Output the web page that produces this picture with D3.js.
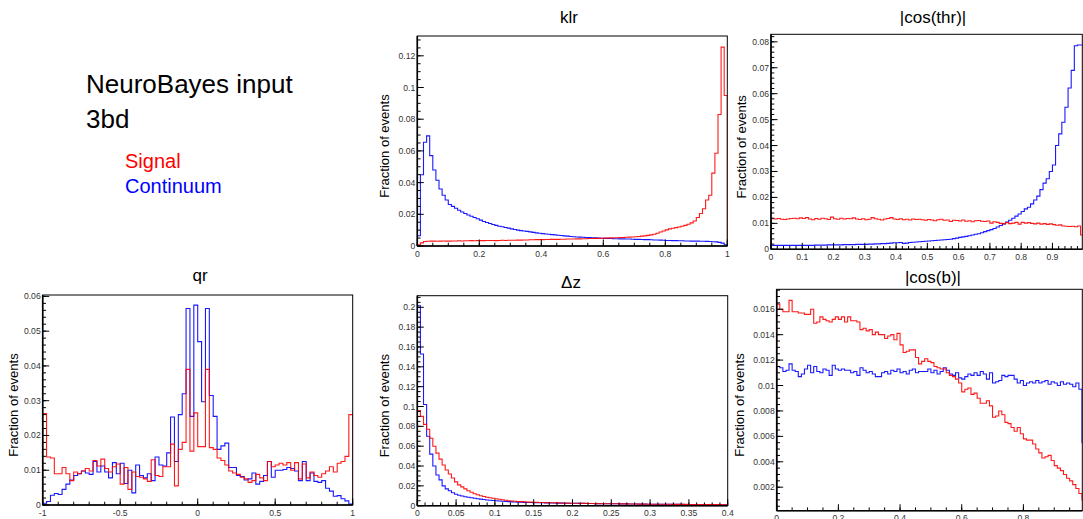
<!DOCTYPE html>
<html>
<head>
<meta charset="utf-8">
<script src="https://cdn.jsdelivr.net/npm/d3@7"></script>
<style>
  body { margin: 0; background: #fff; }
  svg { display: block; }
  text { font-family: "Liberation Sans", Arial, Helvetica, sans-serif; }
</style>
</head>
<body>
<svg id="canvas" width="1083" height="519"></svg>
<script>
// ---- data: fraction of events per bin ----

// klr, 100 bins in [0,1]
const klrSignal = [
  0.0008,0.0020,0.0028,0.0030,0.0031,0.0031,0.0030,0.0031,0.0032,0.0031,
  0.0031,0.0032,0.0032,0.0033,0.0032,0.0033,0.0033,0.0034,0.0033,0.0034,
  0.0034,0.0034,0.0035,0.0035,0.0035,0.0034,0.0035,0.0036,0.0035,0.0036,
  0.0036,0.0036,0.0037,0.0037,0.0038,0.0038,0.0039,0.0039,0.0040,0.0040,
  0.0040,0.0041,0.0041,0.0042,0.0042,0.0042,0.0043,0.0043,0.0044,0.0044,
  0.0044,0.0045,0.0045,0.0046,0.0046,0.0047,0.0047,0.0048,0.0048,0.0049,
  0.0050,0.0050,0.0051,0.0052,0.0052,0.0053,0.0054,0.0055,0.0056,0.0057,
  0.0058,0.0060,0.0062,0.0064,0.0067,0.0070,0.0074,0.0080,0.0088,0.0095,
  0.0102,0.0108,0.0112,0.0116,0.0120,0.0125,0.0130,0.0137,0.0146,0.0158,
  0.0180,0.0205,0.0235,0.0290,0.0320,0.0460,0.0585,0.0830,0.1255,0.0950
];
const klrContinuum = [
  0.0065,0.0450,0.0655,0.0695,0.0570,0.0480,0.0415,0.0360,0.0320,0.0290,
  0.0262,0.0250,0.0238,0.0226,0.0215,0.0205,0.0196,0.0188,0.0180,0.0172,
  0.0163,0.0155,0.0148,0.0142,0.0136,0.0130,0.0125,0.0121,0.0117,0.0113,
  0.0108,0.0104,0.0100,0.0097,0.0095,0.0092,0.0089,0.0086,0.0083,0.0080,
  0.0078,0.0076,0.0074,0.0072,0.0070,0.0068,0.0066,0.0064,0.0062,0.0060,
  0.0058,0.0057,0.0056,0.0055,0.0054,0.0053,0.0052,0.0051,0.0050,0.0049,
  0.0048,0.0048,0.0047,0.0046,0.0046,0.0045,0.0045,0.0044,0.0044,0.0043,
  0.0042,0.0042,0.0041,0.0040,0.0040,0.0039,0.0038,0.0038,0.0037,0.0036,
  0.0035,0.0035,0.0034,0.0034,0.0033,0.0033,0.0032,0.0032,0.0031,0.0031,
  0.0031,0.0030,0.0030,0.0029,0.0028,0.0027,0.0026,0.0023,0.0018,0.0008
];

// |cos(thr)|, 100 bins in [0,1]
const cosThrSignal = [
  0.0118,0.0117,0.0119,0.0116,0.0115,0.0117,0.0119,0.0120,0.0118,0.0121,
  0.0119,0.0122,0.0117,0.0114,0.0119,0.0116,0.0120,0.0118,0.0115,0.0124,
  0.0118,0.0116,0.0120,0.0117,0.0119,0.0118,0.0121,0.0117,0.0115,0.0118,
  0.0114,0.0116,0.0122,0.0118,0.0116,0.0113,0.0117,0.0119,0.0122,0.0117,
  0.0115,0.0118,0.0114,0.0116,0.0113,0.0117,0.0115,0.0116,0.0114,0.0112,
  0.0115,0.0113,0.0110,0.0114,0.0116,0.0112,0.0113,0.0107,0.0112,0.0111,
  0.0109,0.0113,0.0108,0.0110,0.0106,0.0110,0.0111,0.0108,0.0107,0.0109,
  0.0101,0.0106,0.0104,0.0100,0.0098,0.0103,0.0099,0.0101,0.0104,0.0097,
  0.0104,0.0101,0.0103,0.0100,0.0098,0.0101,0.0097,0.0099,0.0096,0.0098,
  0.0095,0.0093,0.0094,0.0090,0.0089,0.0088,0.0089,0.0087,0.0090,0.0055
];
const cosThrContinuum = [
  0.0015,0.0015,0.0015,0.0015,0.0015,0.0015,0.0015,0.0015,0.0015,0.0015,
  0.0015,0.0015,0.0015,0.0015,0.0016,0.0016,0.0016,0.0016,0.0017,0.0017,
  0.0017,0.0017,0.0017,0.0018,0.0018,0.0018,0.0018,0.0019,0.0019,0.0019,
  0.0019,0.0020,0.0020,0.0021,0.0021,0.0022,0.0022,0.0023,0.0024,0.0025,
  0.0025,0.0026,0.0023,0.0024,0.0026,0.0027,0.0028,0.0029,0.0030,0.0031,
  0.0032,0.0033,0.0034,0.0035,0.0036,0.0037,0.0038,0.0039,0.0041,0.0043,
  0.0046,0.0048,0.0050,0.0052,0.0055,0.0058,0.0060,0.0064,0.0068,0.0072,
  0.0076,0.0080,0.0086,0.0092,0.0098,0.0105,0.0112,0.0120,0.0128,0.0136,
  0.0146,0.0156,0.0162,0.0175,0.0190,0.0205,0.0230,0.0255,0.0272,0.0300,
  0.0325,0.0400,0.0445,0.0490,0.0548,0.0622,0.0690,0.0785,0.0788,0.0788
];

// qr, 80 bins in [-1,1]
const qrSignal = [
  0.0263,0.0138,0.0135,0.0090,0.0090,0.0108,0.0090,0.0070,0.0095,0.0090,
  0.0098,0.0105,0.0098,0.0128,0.0112,0.0132,0.0105,0.0095,0.0110,0.0118,
  0.0060,0.0108,0.0045,0.0095,0.0082,0.0080,0.0075,0.0068,0.0130,0.0085,
  0.0082,0.0110,0.0110,0.0175,0.0055,0.0160,0.0180,0.0390,0.0155,0.0265,
  0.0168,0.0168,0.0390,0.0165,0.0160,0.0135,0.0128,0.0115,0.0098,0.0092,
  0.0088,0.0080,0.0075,0.0065,0.0070,0.0088,0.0078,0.0070,0.0125,0.0110,
  0.0115,0.0120,0.0115,0.0122,0.0100,0.0122,0.0075,0.0118,0.0078,0.0095,
  0.0085,0.0080,0.0090,0.0098,0.0110,0.0095,0.0120,0.0125,0.0140,0.0260
];
const qrContinuum = [
  0.0005,0.0010,0.0028,0.0033,0.0030,0.0045,0.0060,0.0072,0.0085,0.0090,
  0.0098,0.0092,0.0088,0.0125,0.0095,0.0112,0.0095,0.0078,0.0122,0.0090,
  0.0120,0.0062,0.0100,0.0035,0.0115,0.0085,0.0078,0.0090,0.0070,0.0138,
  0.0115,0.0112,0.0150,0.0253,0.0125,0.0260,0.0320,0.0565,0.0255,0.0575,
  0.0470,0.0297,0.0565,0.0315,0.0255,0.0160,0.0170,0.0178,0.0108,0.0108,
  0.0085,0.0082,0.0072,0.0075,0.0092,0.0060,0.0068,0.0085,0.0125,0.0080,
  0.0100,0.0100,0.0102,0.0108,0.0105,0.0098,0.0070,0.0125,0.0070,0.0092,
  0.0068,0.0065,0.0070,0.0048,0.0040,0.0025,0.0027,0.0018,0.0012,0.0003
];

// Δz, 100 bins in [0,0.4]
const dzSignal = [
  0.0960,0.0900,0.0820,0.0770,0.0680,0.0600,0.0530,0.0470,0.0410,0.0360,
  0.0320,0.0280,0.0240,0.0210,0.0190,0.0170,0.0150,0.0135,0.0120,0.0110,
  0.0100,0.0092,0.0085,0.0080,0.0075,0.0070,0.0065,0.0060,0.0055,0.0050,
  0.0047,0.0045,0.0043,0.0041,0.0039,0.0037,0.0036,0.0035,0.0034,0.0033,
  0.0032,0.0031,0.0030,0.0029,0.0028,0.0028,0.0027,0.0026,0.0026,0.0025,
  0.0025,0.0024,0.0024,0.0023,0.0023,0.0022,0.0022,0.0021,0.0021,0.0020,
  0.0020,0.0020,0.0019,0.0019,0.0019,0.0018,0.0018,0.0018,0.0017,0.0017,
  0.0017,0.0016,0.0016,0.0016,0.0015,0.0015,0.0015,0.0015,0.0014,0.0014,
  0.0014,0.0014,0.0013,0.0013,0.0013,0.0013,0.0013,0.0012,0.0012,0.0012,
  0.0012,0.0012,0.0011,0.0011,0.0011,0.0011,0.0011,0.0011,0.0010,0.0010
];
const dzContinuum = [
  0.2016,0.1530,0.1020,0.0700,0.0520,0.0400,0.0310,0.0260,0.0200,0.0170,
  0.0150,0.0130,0.0115,0.0105,0.0098,0.0090,0.0085,0.0080,0.0075,0.0070,
  0.0066,0.0062,0.0058,0.0055,0.0052,0.0050,0.0047,0.0045,0.0043,0.0041,
  0.0039,0.0038,0.0036,0.0035,0.0034,0.0033,0.0032,0.0031,0.0030,0.0030,
  0.0029,0.0028,0.0028,0.0027,0.0027,0.0026,0.0026,0.0025,0.0025,0.0025,
  0.0024,0.0024,0.0023,0.0023,0.0022,0.0022,0.0022,0.0021,0.0021,0.0020,
  0.0020,0.0020,0.0019,0.0019,0.0019,0.0018,0.0018,0.0018,0.0017,0.0017,
  0.0017,0.0016,0.0016,0.0016,0.0015,0.0015,0.0015,0.0015,0.0014,0.0014,
  0.0014,0.0014,0.0013,0.0013,0.0013,0.0013,0.0012,0.0012,0.0012,0.0012,
  0.0011,0.0011,0.0011,0.0011,0.0010,0.0010,0.0010,0.0010,0.0010,0.0009
];

// |cos(b)|, 100 bins in [0,1]
const cosBSignal = [
  0.0164,0.0160,0.0158,0.0158,0.0167,0.0158,0.0158,0.0157,0.0157,0.0156,
  0.0156,0.0160,0.0149,0.0150,0.0154,0.0152,0.0151,0.0150,0.0152,0.0154,
  0.0152,0.0154,0.0150,0.0154,0.0151,0.0151,0.0150,0.0144,0.0145,0.0143,
  0.0144,0.0140,0.0142,0.0140,0.0140,0.0137,0.0139,0.0140,0.0136,0.0141,
  0.0132,0.0126,0.0127,0.0128,0.0128,0.0122,0.0117,0.0119,0.0121,0.0119,
  0.0118,0.0115,0.0114,0.0113,0.0113,0.0110,0.0108,0.0107,0.0105,0.0102,
  0.0095,0.0097,0.0098,0.0093,0.0094,0.0090,0.0086,0.0086,0.0088,0.0084,
  0.0075,0.0076,0.0080,0.0077,0.0071,0.0070,0.0067,0.0064,0.0067,0.0062,
  0.0058,0.0057,0.0057,0.0054,0.0050,0.0047,0.0043,0.0044,0.0045,0.0041,
  0.0037,0.0035,0.0033,0.0030,0.0027,0.0025,0.0022,0.0019,0.0015,0.0010
];
const cosBContinuum = [
  0.0115,0.0114,0.0111,0.0112,0.0117,0.0112,0.0111,0.0107,0.0109,0.0113,
  0.0116,0.0110,0.0115,0.0111,0.0110,0.0113,0.0112,0.0108,0.0116,0.0113,
  0.0112,0.0113,0.0112,0.0112,0.0110,0.0111,0.0108,0.0114,0.0112,0.0110,
  0.0111,0.0109,0.0107,0.0107,0.0110,0.0111,0.0109,0.0112,0.0111,0.0113,
  0.0110,0.0111,0.0109,0.0112,0.0113,0.0110,0.0111,0.0111,0.0111,0.0113,
  0.0110,0.0112,0.0109,0.0111,0.0114,0.0112,0.0109,0.0108,0.0110,0.0106,
  0.0105,0.0107,0.0109,0.0108,0.0110,0.0108,0.0111,0.0109,0.0105,0.0110,
  0.0102,0.0103,0.0104,0.0108,0.0107,0.0108,0.0108,0.0105,0.0102,0.0104,
  0.0100,0.0102,0.0103,0.0102,0.0104,0.0102,0.0103,0.0104,0.0101,0.0103,
  0.0102,0.0100,0.0103,0.0101,0.0102,0.0101,0.0099,0.0102,0.0097,0.0055
];

// ---- pads: frame in pixels, axis ranges, tick steps ----
const pads = [
  { title: "klr", tx: 569, ty: 23,
    frame: [417.3, 36, 727.3, 246], binRange: [0, 1], xDom: [0, 1], yDom: [0, 0.1325],
    xMajor: 0.2, xSub: 4, yMajor: 0.02, ySub: 4, yFrom: 0, labelDx: 33,
    sig: klrSignal, con: klrContinuum },
  { title: "|cos(thr)|", tx: 933, ty: 23,
    frame: [771, 34.3, 1082.3, 249.3], binRange: [0, 1], xDom: [0, 0.9955], yDom: [0, 0.0829],
    xMajor: 0.1, xSub: 5, yMajor: 0.01, ySub: 5, yFrom: 0, labelDx: 30,
    sig: cosThrSignal, con: cosThrContinuum },
  { title: "qr", tx: 200, ty: 281,
    frame: [42.7, 295, 352.7, 505], binRange: [-1, 1], xDom: [-1, 1], yDom: [0, 0.0604],
    xMajor: 0.5, xSub: 5, yMajor: 0.01, ySub: 5, yFrom: 0, labelDx: 29,
    sig: qrSignal, con: qrContinuum },
  { title: "Δz", tx: 571, ty: 288,
    frame: [417.3, 295.7, 727.7, 505.7], binRange: [0, 0.4], xDom: [0, 0.4], yDom: [0, 0.2117],
    xMajor: 0.05, xSub: 5, yMajor: 0.02, ySub: 4, yFrom: 0, labelDx: 33,
    sig: dzSignal, con: dzContinuum },
  { title: "|cos(b)|", tx: 933, ty: 283,
    frame: [776.7, 289.3, 1082.3, 510.7], binRange: [0, 1], xDom: [0, 0.991], yDom: [0.00015, 0.01757],
    xMajor: 0.2, xSub: 4, yMajor: 0.002, ySub: 4, yFrom: 0.002, labelDx: 37,
    sig: cosBSignal, con: cosBContinuum }
];

const svg = d3.select("#canvas");
const fmt = v => {
  const r = +v.toFixed(6);
  return r < 0 ? "-" + d3.format("~g")(-r) : d3.format("~g")(r);
};

// title / legend pad
const info = svg.append("g");
info.append("text").attr("x", 86).attr("y", 93).attr("font-size", 26).text("NeuroBayes input");
info.append("text").attr("x", 86).attr("y", 128).attr("font-size", 26).text("3bd");
info.append("text").attr("x", 125).attr("y", 168).attr("font-size", 20).attr("fill", "#ff0000").text("Signal");
info.append("text").attr("x", 125).attr("y", 193).attr("font-size", 20).attr("fill", "#0000ff").text("Continuum");

function stepPoints(values, lo, hi) {
  const w = (hi - lo) / values.length;
  const pts = [[lo, 0]];
  values.forEach((v, i) => {
    pts.push([lo + i * w, v]);
    pts.push([lo + (i + 1) * w, v]);
  });
  pts.push([hi, 0]);
  return pts;
}

function ticksFrom(start, end, step) {
  const out = [];
  for (let k = 0; ; k++) {
    const v = start + k * step;
    if (v > end + step * 1e-6) break;
    out.push(+v.toFixed(8));
  }
  return out;
}

pads.forEach((p, idx) => {
  const [L, T, R, B] = p.frame;
  const x = d3.scaleLinear().domain(p.xDom).range([L, R]);
  const y = d3.scaleLinear().domain(p.yDom).range([B, T]).clamp(true);
  const g = svg.append("g");

  const clipId = "clip" + idx;
  svg.append("clipPath").attr("id", clipId)
    .append("rect").attr("x", L).attr("y", T - 1).attr("width", R - L).attr("height", B - T + 1);

  // title
  g.append("text").attr("x", p.tx).attr("y", p.ty).attr("text-anchor", "middle")
    .attr("font-size", 17).text(p.title);

  // histograms
  const line = d3.line().x(d => x(d[0])).y(d => y(d[1]));
  const hg = g.append("g").attr("clip-path", `url(#${clipId})`);
  hg.append("path").attr("d", line(stepPoints(p.con, p.binRange[0], p.binRange[1])))
    .attr("fill", "none").attr("stroke", "#0000ff").attr("stroke-width", 1.1).attr("stroke-opacity", 0.9);
  hg.append("path").attr("d", line(stepPoints(p.sig, p.binRange[0], p.binRange[1])))
    .attr("fill", "none").attr("stroke", "#ff0000").attr("stroke-width", 1.1).attr("stroke-opacity", 0.9);

  // frame
  g.append("rect").attr("x", L).attr("y", T).attr("width", R - L).attr("height", B - T)
    .attr("fill", "none").attr("stroke", "#000").attr("stroke-width", 1);

  // x axis
  const xMinor = ticksFrom(p.xDom[0], p.xDom[1], p.xMajor / p.xSub);
  const xMajor = ticksFrom(p.xDom[0], p.xDom[1], p.xMajor);
  g.append("line").attr("x1", L).attr("x2", R).attr("y1", B).attr("y2", B)
    .attr("stroke", "#000").attr("stroke-width", 1.6);
  g.selectAll(".xmin").data(xMinor).enter().append("line")
    .attr("x1", d => x(d)).attr("x2", d => x(d)).attr("y1", B).attr("y2", B - 3.3)
    .attr("stroke", "#000");
  g.selectAll(".xmaj").data(xMajor).enter().append("line")
    .attr("x1", d => x(d)).attr("x2", d => x(d)).attr("y1", B).attr("y2", B - 6.5)
    .attr("stroke", "#000");
  g.selectAll(".xlab").data(xMajor).enter().append("text")
    .attr("x", d => x(d)).attr("y", B + 10.5).attr("text-anchor", "middle")
    .attr("font-size", 8.6).attr("fill", "#333").text(fmt);

  // y axis
  const yMinor = ticksFrom(0, p.yDom[1], p.yMajor / p.ySub).filter(v => v >= p.yDom[0]);
  const yMajor = ticksFrom(p.yFrom, p.yDom[1], p.yMajor);
  g.append("line").attr("x1", L).attr("x2", L).attr("y1", T).attr("y2", B)
    .attr("stroke", "#000").attr("stroke-width", 1.6);
  g.selectAll(".ymin").data(yMinor).enter().append("line")
    .attr("x1", L).attr("x2", L + 3.3).attr("y1", d => y(d)).attr("y2", d => y(d))
    .attr("stroke", "#000");
  g.selectAll(".ymaj").data(yMajor).enter().append("line")
    .attr("x1", L).attr("x2", L + 6.5).attr("y1", d => y(d)).attr("y2", d => y(d))
    .attr("stroke", "#000");
  g.selectAll(".ylab").data(yMajor).enter().append("text")
    .attr("x", L - 2).attr("y", d => y(d) + 3).attr("text-anchor", "end")
    .attr("font-size", 8.6).attr("fill", "#333").text(fmt);

  // y title
  const cy = (T + B) / 2 + 5;
  g.append("text").attr("transform", `translate(${L - p.labelDx},${cy}) rotate(-90)`)
    .attr("text-anchor", "middle").attr("dy", "0.35em").attr("font-size", 13)
    .text("Fraction of events");
});
</script>
</body>
</html>
